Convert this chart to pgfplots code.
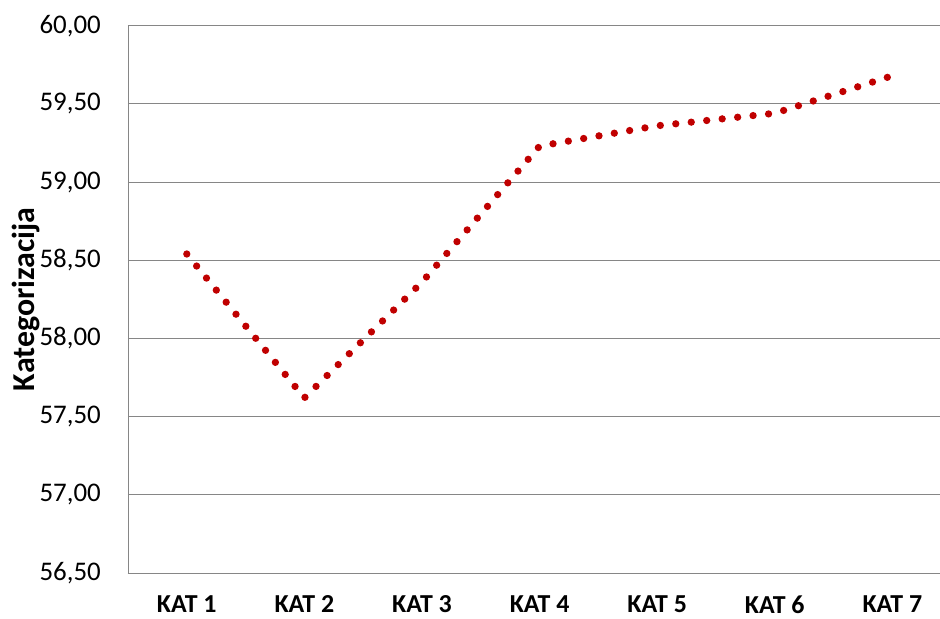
\documentclass[border=0pt]{standalone}
\usepackage{pgfplots}
\pgfplotsset{compat=1.18}
\usepackage{fontspec}
\setmainfont{Carlito}
\definecolor{dotred}{RGB}{192,0,0}
\definecolor{gridgray}{RGB}{134,134,134}
\begin{document}
\begin{tikzpicture}
\useasboundingbox (-128bp,-46bp) rectangle (812bp,573bp);
\begin{axis}[
  at={(0,0)}, anchor=south west,
  scale only axis,
  width=812bp, height=547.3bp,
  xmin=0.5, xmax=7.405,
  ymin=56.5, ymax=60,
  ytick={56.5,57,57.5,58,58.5,59,59.5,60},
  xtick={1,2,3,4,5,6,7},
  xticklabels={KAT 1,KAT 2,KAT 3,KAT 4,KAT 5,KAT 6,KAT 7},
  axis x line=bottom, axis y line=left,
  axis line style={draw=gridgray, line width=0.9bp, -},
  major tick length=0pt,
  ymajorgrids,
  grid style={draw=gridgray, line width=0.9bp},
  /pgf/number format/.cd, assume math mode=true, use comma, fixed, fixed zerofill, precision=2,
  /pgfplots/.cd,
  yticklabel style={font=\fontsize{27}{32}\selectfont, anchor=east, inner sep=0pt, xshift=-27bp},
  xticklabel style={font=\bfseries\fontsize{26}{31}\selectfont, anchor=north, inner sep=0pt, yshift=-22.5bp},
  ylabel={Kategorizacija},
  ylabel style={font=\bfseries\fontsize{32}{38}\selectfont, at={(axis description cs:0,0.5)}, anchor=center, yshift=102bp, inner sep=0pt},
  clip=false,
]
\addplot[dotred, line width=7.3bp, line cap=round, dash pattern=on 0bp off 15.55bp]
  coordinates {(1,58.54) (2,57.62) (3,58.36) (4,59.23) (5,59.36) (6,59.44) (7,59.68)};
\end{axis}
\end{tikzpicture}
\end{document}
